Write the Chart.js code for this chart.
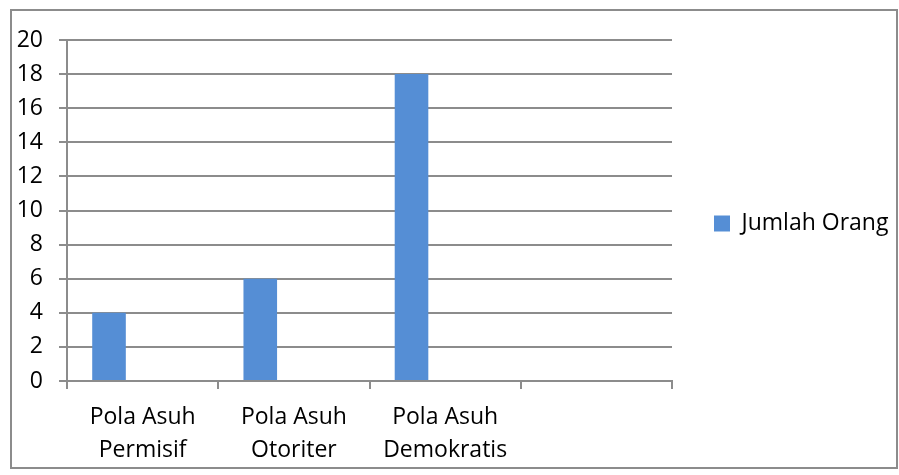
<!DOCTYPE html>
<html>
<head>
<meta charset="utf-8">
<script src="https://cdn.jsdelivr.net/npm/chart.js@4.4.1/dist/chart.umd.min.js"></script>
<style>
  body { margin: 0; background: #fff; }
  #wrap { position: relative; width: 899px; height: 475px; }
  #frame { position: absolute; left: 10px; top: 9px; width: 888px; height: 460px; box-sizing: border-box; border: 2px solid #8c8c8c; pointer-events: none; }
  canvas { position: absolute; left: 0; top: 0; }
</style>
</head>
<body>
<div id="wrap">
  <canvas id="chart" width="899" height="475"></canvas>
  <div id="frame"></div>
</div>
<script>
const categories = [['Pola Asuh', 'Permisif'], ['Pola Asuh', 'Otoriter'], ['Pola Asuh', 'Demokratis'], ''];
const jumlahOrang = [4, 6, 18, null];
// Excel reserved room for two more (empty) series, so bars sit left in each slot
const emptySeries = [null, null, null, null];
const seriesLabel = 'Jumlah Orang';

const gridColor = '#8c8c8c';
const font = { family: 'Open Sans', size: 23 };

// fix the legend box width so the plot ends where the reference's does,
// and lift it a little so it sits level with the middle of the plot
const legendPlace = {
    id: 'legendPlace',
    beforeInit(chart) {
        const legend = chart.legend;
        const origFit = legend.fit;
        legend.fit = function() {
            origFit.call(this);
            this.width = 227;
        };
    },
    afterLayout(chart) {
        chart.legend.top -= 27;
        chart.legend.bottom -= 27;
    }
};

new Chart(document.getElementById('chart').getContext('2d'), {
    type: 'bar',
    data: {
        labels: categories,
        datasets: [
            { label: seriesLabel, data: jumlahOrang, backgroundColor: '#558ed5' },
            { label: '', data: emptySeries, backgroundColor: '#c0504d' },
            { label: '', data: emptySeries, backgroundColor: '#9bbb59' }
        ]
    },
    options: {
        responsive: false,
        animation: false,
        categoryPercentage: 2 / 3,
        barPercentage: 1,
        layout: { padding: { left: 12, top: 40, bottom: 14, right: 0 } },
        plugins: {
            legend: {
                position: 'right',
                labels: {
                    boxWidth: 16,
                    boxHeight: 16,
                    padding: 42,
                    color: '#000',
                    font: font,
                    filter: item => item.text !== ''
                }
            },
            tooltip: { enabled: false }
        },
        scales: {
            x: {
                afterFit: s => { s.height = 80; },
                grid: { drawOnChartArea: false, drawTicks: true, tickLength: 8, color: gridColor, lineWidth: 2, offset: true },
                border: { color: gridColor, width: 2 },
                ticks: { color: '#000', font: { family: 'Open Sans', size: 23, lineHeight: 1.43 }, maxRotation: 0, autoSkip: false, padding: 12 }
            },
            y: {
                min: 0,
                max: 20,
                afterFit: s => { s.width = 55; },
                grid: { color: gridColor, lineWidth: 2, tickLength: 8 },
                border: { color: gridColor, width: 2 },
                ticks: { stepSize: 2, color: '#000', font: font, padding: 16 }
            }
        }
    },
    plugins: [legendPlace]
});
</script>
</body>
</html>
